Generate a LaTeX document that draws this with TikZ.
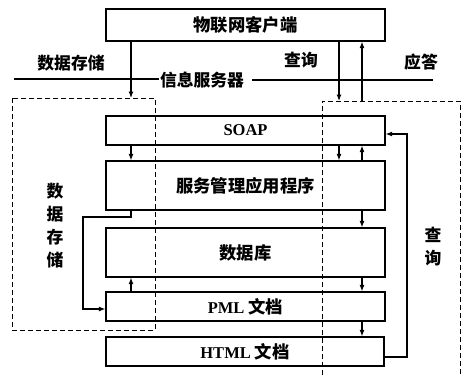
\documentclass[tikz,border=0pt]{standalone}
\usepackage{fontspec}
\setmainfont{Liberation Serif}
\newfontfamily\cjk{Noto Sans CJK SC}[Scale=1.05]
\usetikzlibrary{arrows.meta}
\tikzset{
  box/.style={draw, line width=1.3pt, minimum width=279pt, inner sep=0pt,
    font=\fontsize{16.5}{19}\selectfont\bfseries},
  lbl/.style={inner sep=0pt, font=\fontsize{16}{19}\selectfont\bfseries\cjk},
  vlbl/.style={inner sep=0pt, align=center, font=\fontsize{16}{23}\selectfont\bfseries\cjk},
  arr/.style={line width=1.1pt, -{Latex[length=6.5pt,width=5pt]}},
  ln/.style={line width=1.1pt},
  dsh/.style={line width=1pt, dash pattern=on 5pt off 3pt}
}
\begin{document}
\begin{tikzpicture}[x=1pt,y=-1pt]
\useasboundingbox (0,0) rectangle (462,375);
% boxes
\node[box, minimum height=32pt] (top) at (245.5,25) {\cjk 物联网客户端};
\node[box, minimum height=29pt] (soap) at (245.5,130.5) {SOAP};
\node[box, minimum height=49pt] (svc) at (245.5,185.5) {\cjk 服务管理应用程序};
\node[box, minimum height=49pt] (db) at (245.5,252.5) {\cjk 数据库};
\node[box, minimum height=29pt] (pml) at (245.5,306.5) {PML {\cjk 文档}};
\node[box, minimum height=29pt, minimum width=278pt] (html) at (245,351.5) {HTML {\cjk 文档}};
% labels
\node[lbl] (ds) at (71,63) {数据存储};
\node[lbl] (srv) at (202,80) {信息服务器};
\node[lbl] (cx) at (301,60) {查询};
\node[lbl] (yd) at (421,62) {应答};
\node[vlbl] (vds) at (55,226) {数\\据\\存\\储};
\node[vlbl] (vcx) at (433,247) {查\\询};
% coordinates
\coordinate (xa) at (131,0);
\coordinate (xb) at (339,0);
\coordinate (xc) at (362,0);
\coordinate (hl1) at (14,79);
\coordinate (hr2) at (433,80);
\coordinate (L1) at (12,98);
\coordinate (L2) at (155,330);
\coordinate (R1) at (322,101);
\coordinate (R2) at (460,101);
\coordinate (Rb1) at (322,375);
\coordinate (Rb2) at (460,375);
\coordinate (lp1) at (83,217);
\coordinate (lp2) at (83,309);
\coordinate (fb1) at (407,357);
\coordinate (fb2) at (407,134);
% horizontal server line
\draw[ln] (hl1) -- ([xshift=-1pt]srv.west |- hl1);
\draw[ln] ([xshift=8pt]srv.east |- hr2) -- (hr2);
% dashed regions
\draw[dsh] (L1) rectangle (L2);
\draw[dsh] (Rb1) -- (R1) -- (R2) -- (Rb2);
% arrows from client
\draw[arr] (top.south -| xa) -- (xa |- L1);
\draw[arr] (top.south -| xb) -- (xb |- R1);
\draw[arr] (xc |- R1) -- (top.south -| xc);
% SOAP <-> service
\draw[arr] (soap.south -| xa) -- (svc.north -| xa);
\draw[arr] (soap.south -| xb) -- (svc.north -| xb);
\draw[arr] (svc.north -| xc) -- (soap.south -| xc);
% chain right
\draw[arr] (svc.south -| xc) -- (db.north -| xc);
\draw[arr] (db.south -| xc) -- (pml.north -| xc);
\draw[arr] (pml.south -| xc) -- (html.north -| xc);
% PML -> db
\draw[arr] (pml.north -| xa) -- (db.south -| xa);
% left loop
\draw[arr] (svc.south -| xa) -- (xa |- lp1) -- (lp1) -- (lp2) -- (pml.west |- lp2);
% feedback
\draw[arr] (html.east |- fb1) -- (fb1) -- (fb2) -- (soap.east |- fb2);
\end{tikzpicture}
\end{document}
